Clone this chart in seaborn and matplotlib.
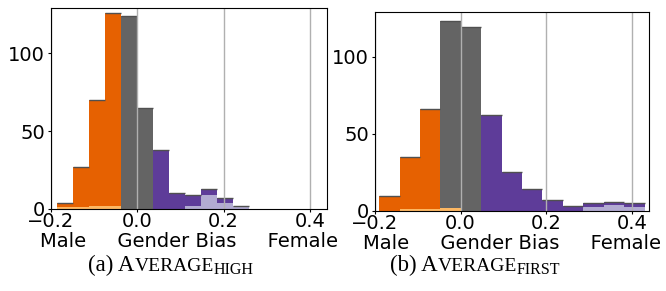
import numpy as np
import pandas as pd
import seaborn as sns
from matplotlib import pyplot as plt

# counts per bin (equal-width bins)
high_range = (-0.1853, 0.2600)
high_total = [4, 27, 70, 126, 124, 65, 38, 10, 9, 13, 7, 2]
high_light = [1, 1, 2, 2, 0, 0, 0, 0, 2, 9, 4, 2]
high_side = ['male'] * 4 + ['neutral'] * 2 + ['female'] * 6

first_range = (-0.1903, 0.4295)
first_total = [10, 35, 66, 123, 119, 62, 25, 14, 7, 3, 5, 6, 5]
first_light = [0, 1, 1, 2, 0, 0, 0, 0, 0, 0, 2.5, 4, 2.5]
first_side = ['male'] * 3 + ['neutral'] * 2 + ['female'] * 8

colors = {'male': '#e66101', 'neutral': '#646464', 'female': '#5e3c99',
          'light male': '#fdb863', 'light female': '#b2abd2'}
order = ['male', 'neutral', 'female', 'light male', 'light female']


def make_df(edges, total, light, side):
    rows = []
    for i in range(len(total)):
        c = (edges[i] + edges[i + 1]) / 2
        rows.append((c, total[i] - light[i], side[i]))
        lside = 'light male' if edges[i + 1] <= 0.0005 or side[i] == 'male' else 'light female'
        rows.append((c, light[i], lside))
    return pd.DataFrame(rows, columns=['bias', 'n', 'layer'])


fig = plt.figure(figsize=(6.66, 2.91), dpi=100)
ax1 = fig.add_axes([51 / 666, 82 / 291, 276 / 666, 201 / 291])
ax2 = fig.add_axes([375 / 666, 80 / 291, 274 / 666, 199 / 291])

for ax, rng, total, light, side in [(ax1, high_range, high_total, high_light, high_side),
                                    (ax2, first_range, first_total, first_light, first_side)]:
    edges = np.linspace(rng[0], rng[1], len(total) + 1)
    df = make_df(edges, total, light, side)
    sns.histplot(data=df, x='bias', weights='n', hue='layer', hue_order=order,
                 palette=colors, bins=list(edges), multiple='stack', alpha=1,
                 linewidth=0, legend=False, ax=ax)
    ax.hlines(total, edges[:-1], edges[1:], color='#505050', lw=1)
    ax.set_xlim(-0.2, 0.44)
    ax.set_ylim(0, 129)
    ax.set_xticks([-0.2, 0.0, 0.2, 0.4])
    ax.set_yticks([0, 50, 100])
    ax.grid(axis='x', color='#b0b0b0', lw=1)
    ax.set_axisbelow(False)
    for sp in ax.spines.values():
        sp.set_zorder(5)
    ax.tick_params(axis='x', labelsize=14, length=2.5, pad=-0.5)
    ax.tick_params(axis='y', labelsize=14, length=2.5, pad=2)
    ax.set_ylabel('')
    ax.set_xlabel('Male     Gender Bias     Female', fontsize=14, labelpad=1)

fig.canvas.draw()
r = fig.canvas.get_renderer()


def caption(x, head, rest, sub):
    parts = [(head, 16.5, 0), (rest, 14, 0), (sub, 11.5, -3)]
    for s, size, dy in parts:
        t = fig.text(x / 666, (20 + dy) / 291, s, fontsize=size,
                     family='Liberation Serif', va='baseline', ha='left')
        x = t.get_window_extent(r).x1


caption(88, '(a) A', 'VERAGE', 'HIGH')
caption(390, '(b) A', 'VERAGE', 'FIRST')

fig.savefig('out.png', dpi=100)
